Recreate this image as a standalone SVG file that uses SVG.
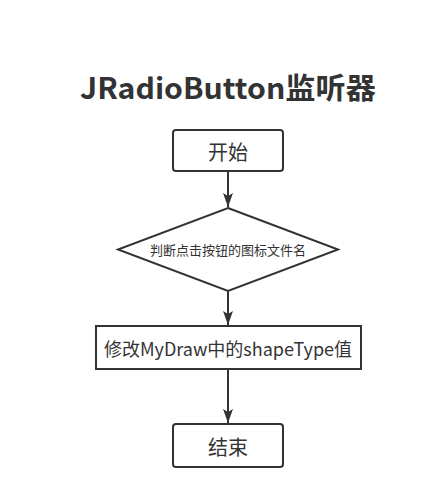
<svg xmlns="http://www.w3.org/2000/svg" width="440" height="499" viewBox="0 0 440 499">
<defs>
<style>
.s{fill:#fff;stroke:#333;stroke-width:2}
.t{font-family:"Noto Sans CJK SC","Microsoft YaHei",sans-serif;fill:#333;text-anchor:middle;dominant-baseline:central}
.c{stroke:#333;stroke-width:2;fill:none}
.h{fill:#333}
</style>
</defs>
<rect width="440" height="499" fill="#fff"/>
<text x="228" y="86" class="t" font-size="29" font-weight="bold" textLength="296" lengthAdjust="spacingAndGlyphs">JRadioButton监听器</text>
<g id="connectors">
<line class="c" x1="228" y1="171" x2="228" y2="207"/>
<path class="h" d="M223,193 L228,207 L233,193 L228,196 Z"/>
<line class="c" x1="228" y1="291" x2="228" y2="325"/>
<path class="h" d="M223,311 L228,325 L233,311 L228,314 Z"/>
<line class="c" x1="228" y1="369" x2="228" y2="423"/>
<path class="h" d="M223,409 L228,423 L233,409 L228,412 Z"/>
</g>
<g id="start">
<rect class="s" x="173" y="130" width="110" height="41" rx="3"/>
<text class="t" x="228" y="151" font-size="20">开始</text>
</g>
<g id="decision">
<polygon class="s" points="228,208 338,249.5 228,291 118,249.5"/>
<text class="t" x="228" y="249.5" font-size="13">判断点击按钮的图标文件名</text>
</g>
<g id="modify">
<rect class="s" x="96" y="326" width="265" height="43"/>
<text class="t" x="228" y="348" font-size="18">修改MyDraw中的shapeType值</text>
</g>
<g id="end">
<rect class="s" x="173" y="424" width="110" height="43" rx="3"/>
<text class="t" x="228" y="446" font-size="20">结束</text>
</g>
</svg>
